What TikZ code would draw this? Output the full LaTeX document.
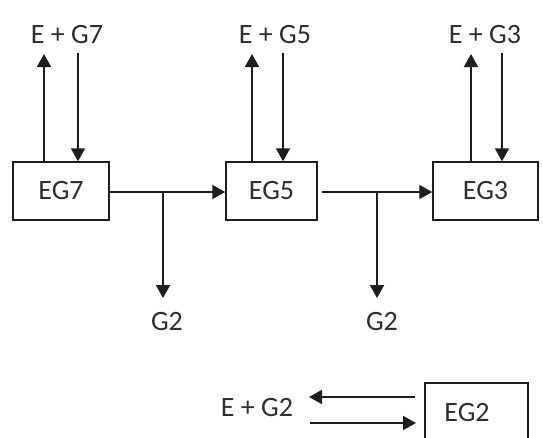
\documentclass[tikz,border=0pt]{standalone}
\usepackage{fontspec}
\setmainfont{Carlito}
\usetikzlibrary{arrows.meta}
\definecolor{linec}{HTML}{1E1E1E}
\definecolor{txtc}{HTML}{2E2E2E}
\begin{document}
\begin{tikzpicture}[x=1pt,y=-1pt,
  box/.style={draw=linec, line width=1.5pt, minimum height=58pt, inner sep=0pt, font=\fontsize{28}{32}\selectfont, text=txtc},
  lbl/.style={inner sep=0pt, font=\fontsize{28}{32}\selectfont, text=txtc},
  arr/.style={draw=linec, line width=2pt, -{Triangle[length=13pt,width=14pt]}},
  ln/.style={draw=linec, line width=2pt}]
\path[use as bounding box] (0,0) rectangle (543,437);
\clip (0,0) rectangle (543,437);
% boxes
\node[box, minimum width=96pt] (EG7) at (61,191) {EG7};
\node[box, minimum width=91pt] (EG5) at (271.5,191) {EG5};
\node[box, minimum width=105pt] (EG3) at (485.5,191) {EG3};
\node[box, minimum width=103pt, minimum height=70pt] (EG2) at (476.5,418) {};
\node[lbl] (EG2t) at (467,413) {EG2};
% labels
\node[lbl] (L7) at (67,35) {E + G7};
\node[lbl] (L5) at (275,35) {E + G5};
\node[lbl] (L3) at (485,35) {E + G3};
\node[lbl] (G2a) at (167,322) {G2};
\node[lbl] (G2b) at (382,322) {G2};
\node[lbl] (L2) at (257,408) {E + G2};
% coordinates
\coordinate (u7) at (44,54);  \coordinate (d7) at (78,53);
\coordinate (u5) at (252,54); \coordinate (d5) at (283,53);
\coordinate (u3) at (471,54); \coordinate (d3) at (502,53);
\coordinate (b1) at (163,192); \coordinate (b1e) at (163,298);
\coordinate (s2) at (322,192);
\coordinate (b2) at (377,192); \coordinate (b2e) at (377,298);
\coordinate (t1s) at (415,397); \coordinate (t1e) at (309,397);
\coordinate (t2s) at (310,423); \coordinate (t2e) at (416,423);
% vertical arrows
\draw[arr] (EG7.north -| u7) -- (u7);
\draw[arr] (d7) -- (EG7.north -| d7);
\draw[arr] (EG5.north -| u5) -- (u5);
\draw[arr] (d5) -- (EG5.north -| d5);
\draw[arr] (EG3.north -| u3) -- (u3);
\draw[arr] (d3) -- (EG3.north -| d3);
% horizontal flow
\draw[arr] (EG7.east |- b1) -- (EG5.west |- b1);
\draw[arr] (b1) -- (b1e);
\draw[arr] (s2) -- (EG3.west |- s2);
\draw[arr] (b2) -- (b2e);
% bottom equilibrium
\draw[arr] (t1s) -- (t1e);
\draw[arr] (t2s) -- (t2e);
\end{tikzpicture}
\end{document}
